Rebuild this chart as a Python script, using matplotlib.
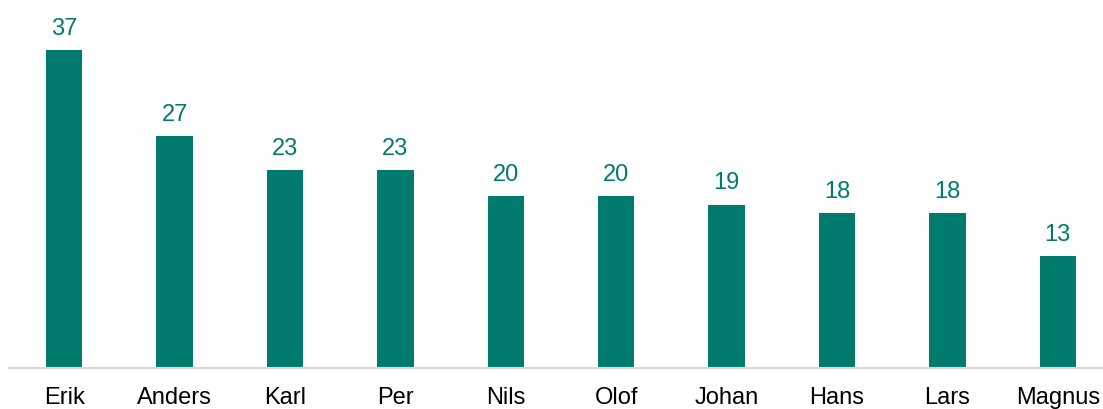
import numpy as np
import matplotlib
matplotlib.use('Agg')
import matplotlib.pyplot as plt

names = ['Erik', 'Anders', 'Karl', 'Per', 'Nils', 'Olof', 'Johan', 'Hans', 'Lars', 'Magnus']
counts = [37, 27, 23, 23, 20, 20, 19, 18, 18, 13]

teal = '#007B6E'
plt.rcParams['font.family'] = ['Liberation Sans', 'DejaVu Sans']

W, H = 1103, 410
fig = plt.figure(figsize=(W / 100, H / 100), dpi=100)
# axes run a little past the right edge, like a cropped export
left, right, bottom, top = 9, 1113, 369, 25
ax = fig.add_axes([left / W, (H - bottom) / H, (right - left) / W, (bottom - top) / H])

x = np.arange(len(names))
bars = ax.bar(x, counts, width=0.33, color=teal)
for b, v in zip(bars, counts):
    ax.annotate(str(v), (b.get_x() + b.get_width() / 2, v), xytext=(0, 8),
                textcoords='offset points', ha='center', va='bottom',
                fontsize=17, color=teal)

ax.set_xlim(-0.5, len(names) - 0.5)
ax.set_ylim(0, 40)
ax.set_xticks(x, names, fontsize=17)
ax.tick_params(axis='x', length=0, pad=13)
ax.set_yticks([])
for s in ['top', 'right', 'left']:
    ax.spines[s].set_visible(False)
ax.spines['bottom'].set_color('#D9D9D9')
ax.spines['bottom'].set_linewidth(1.5)

fig.savefig('out.png', dpi=100, facecolor='white')
